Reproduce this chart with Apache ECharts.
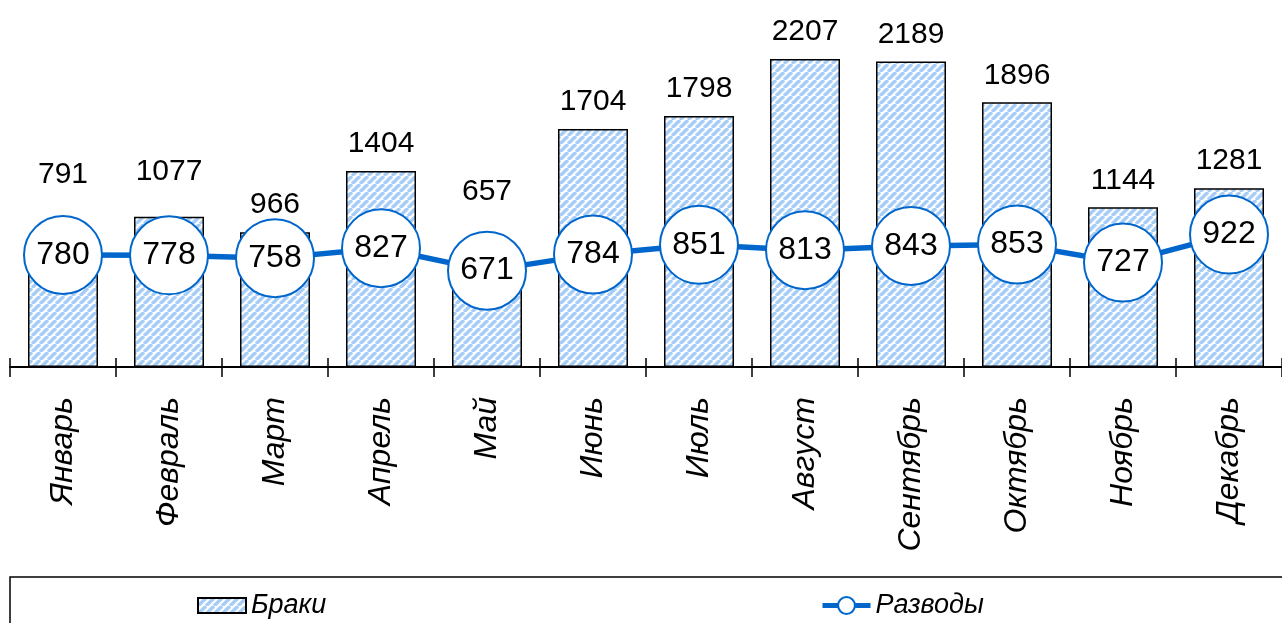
<!DOCTYPE html>
<html>
<head>
<meta charset="utf-8">
<script src="https://cdn.jsdelivr.net/npm/echarts@6/dist/echarts.min.js"></script>
<style>
html,body{margin:0;padding:0;background:#fff}
#chart{width:1282px;height:623px}
</style>
</head>
<body>
<div id="chart"></div>
<script>
var months=['Январь','Февраль','Март','Апрель','Май','Июнь','Июль','Август','Сентябрь','Октябрь','Ноябрь','Декабрь']
var marriages=[791,1077,966,1404,657,1704,1798,2207,2189,1896,1144,1281]
var divorces=[780,778,758,827,671,784,851,813,843,853,727,922]

// hatch fill like the excel pattern
var hatch=document.createElement('canvas')
hatch.width=8
hatch.height=8
var hc=hatch.getContext('2d')
hc.fillStyle='#ffffff'
hc.fillRect(0,0,8,8)
hc.strokeStyle='#a6cdf7'
hc.lineWidth=3.4
for(var k=-8;k<=16;k+=8){
    hc.beginPath()
    hc.moveTo(k,8)
    hc.lineTo(k+8,0)
    hc.stroke()
}

// some labels were moved up in the original to clear the circles
var moveUp={0:55,1:18,4:57}
var barData=[]
marriages.forEach(function(v,i){
    var item={value:v}
    if(moveUp[i]) item.label={offset:[0,-moveUp[i]]}
    barData.push(item)
})

var blue='#0066cc'
var font='"Liberation Sans", Arial, sans-serif'
var legendText={fontSize:27,fontStyle:'italic',color:'#000',fontFamily:font}
var chart=echarts.init(document.getElementById('chart'))
chart.setOption({
    animation:false,
    textStyle:{fontFamily:font},
    grid:{left:10,right:-11,top:18,bottom:256},
    graphic:[{
        type:'rect',
        shape:{x:10,y:577,width:1300,height:80},
        style:{fill:'none',stroke:'#000',lineWidth:1.5},
        z:-1
    }],
    legend:[{
        left:192,
        top:587,
        itemWidth:48,
        itemHeight:15,
        textStyle:legendText,
        data:[{name:'Браки',icon:'rect'}]
    },{
        left:815,
        top:587,
        itemWidth:48,
        itemHeight:21,
        textStyle:legendText,
        data:[{name:'Разводы',lineStyle:{width:5,color:blue},itemStyle:{color:'#fff',borderColor:blue,borderWidth:2}}]
    }],
    xAxis:[{
        type:'category',
        data:months,
        axisLine:{lineStyle:{color:'#000',width:2}},
        axisTick:{show:true,interval:0,length:10,lineStyle:{color:'#000',width:1.5}},
        axisLabel:{rotate:90,fontSize:32,fontStyle:'italic',color:'#000',margin:30,interval:0,fontFamily:font}
    },{
        type:'category',
        data:months,
        position:'bottom',
        axisLine:{show:false},
        axisTick:{show:true,interval:0,inside:true,length:9,lineStyle:{color:'#000',width:1.5}},
        axisLabel:{show:false}
    }],
    yAxis:[{
        type:'value',min:0,max:2500,show:false,splitLine:{show:false}
    },{
        type:'value',min:0,max:2430,show:false,splitLine:{show:false}
    }],
    series:[{
        name:'Браки',
        type:'bar',
        barWidth:70,
        data:barData,
        itemStyle:{color:{image:hatch,repeat:'repeat'},borderColor:'#000',borderWidth:1.5},
        label:{show:true,position:'top',distance:12,fontSize:30,color:'#000',fontFamily:font}
    },{
        name:'Разводы',
        type:'line',
        yAxisIndex:1,
        data:divorces,
        symbol:'circle',
        symbolSize:78,
        lineStyle:{color:blue,width:5.5},
        itemStyle:{color:'#fff',borderColor:blue,borderWidth:2},
        label:{show:true,position:'inside',fontSize:32,color:'#000',fontFamily:font},
        z:3
    }]
})
</script>
</body>
</html>
